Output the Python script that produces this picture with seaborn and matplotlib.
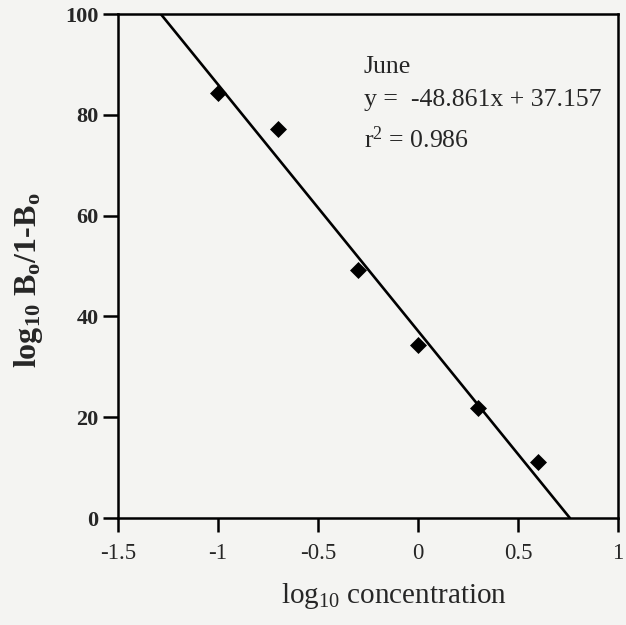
import matplotlib
matplotlib.use("Agg")
import matplotlib.pyplot as plt
import seaborn as sns
import pandas

# values
conc = [-1.0, -0.7, -0.3, 0.0, 0.3, 0.6]
ratio = [84.4, 77.1, 49.3, 34.3, 21.8, 11.05]
slope = -48.861
intercept = 37.157
r2 = 0.986
month = "June"

xticks = [-1.5, -1, -0.5, 0, 0.5, 1]
xtick_labels = ["-1.5", "-1", "-0.5", "0", "0.5", "1"]
yticks = [0, 20, 40, 60, 80, 100]

data = pandas.DataFrame({"conc": conc, "ratio": ratio})

sns.set_style("ticks")
plt.rcParams['font.family'] = ['Liberation Serif', 'DejaVu Serif']
plt.rcParams['mathtext.fontset'] = 'custom'
plt.rcParams['mathtext.rm'] = 'Liberation Serif'
plt.rcParams['mathtext.it'] = 'Liberation Serif'
plt.rcParams['mathtext.bf'] = 'Liberation Serif:bold'
plt.rcParams['axes.unicode_minus'] = False

bg = '#f4f4f2'
fig = plt.figure(figsize=(6.26, 6.25), dpi=100, facecolor=bg)
ax = fig.add_axes([0.1885, 0.171, 0.7985, 0.8066])
ax.set_facecolor(bg)

ax.axline((0, intercept), slope=slope, color='black', linewidth=1.9, zorder=2)
sns.scatterplot(data=data, x="conc", y="ratio", marker='D', s=75, color='black',
                edgecolor='black', linewidth=0, ax=ax, zorder=3)

ax.set_xlim(-1.5, 1)
ax.set_ylim(0, 100)
ax.set_xticks(xticks)
ax.set_xticklabels(xtick_labels, fontsize=16.5)
ax.set_yticks(yticks)
ax.set_yticklabels([str(t) for t in yticks], fontsize=16, fontweight='bold')
ax.tick_params(axis='x', length=10, width=1.8, color='black', pad=8)
ax.tick_params(axis='y', length=11, width=1.8, color='black', pad=3)
for sp in ax.spines.values():
    sp.set_linewidth(1.8)
    sp.set_color('black')

ax.set_xlabel("log$_{10}$ concentration", fontsize=21)
ax.xaxis.set_label_coords(0.552, -0.125)
ax.set_ylabel(r"log$_{\mathbf{10}}$ B$_\mathbf{o}$/1-B$_\mathbf{o}$", fontsize=23,
              fontweight='bold')
ax.yaxis.set_label_coords(-0.146, 0.472)

ax.text(-0.27, 88.3, month, fontsize=18.5, va='baseline')
ax.text(-0.27, 81.7, "y =  %.3fx + %.3f" % (slope, intercept), fontsize=18.5, va='baseline')
ax.text(-0.27, 73.4, "r$^2$ = %.3f" % r2, fontsize=18.5, va='baseline')

plt.savefig("out.png", dpi=100, facecolor=bg)
